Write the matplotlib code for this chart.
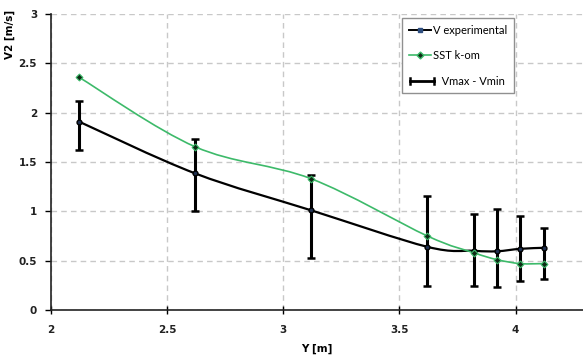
import matplotlib
matplotlib.use("Agg")
import matplotlib.pyplot as plt
from matplotlib.path import Path
from matplotlib.patches import PathPatch
from matplotlib.lines import Line2D
from matplotlib.legend_handler import HandlerBase
import numpy as np

# data
y_pos = [2.12, 2.62, 3.12, 3.62, 3.82, 3.92, 4.02, 4.12]
v_exp = [1.91, 1.385, 1.01, 0.64, 0.60, 0.595, 0.62, 0.63]
v_sst = [2.36, 1.655, 1.33, 0.75, 0.58, 0.51, 0.47, 0.47]
v_max = [2.12, 1.73, 1.37, 1.155, 0.97, 1.02, 0.955, 0.83]
v_min = [1.62, 1.00, 0.53, 0.243, 0.243, 0.233, 0.29, 0.31]

green = "#3dba6a"


def smooth_path(xs, ys):
    # excel style smoothed line: cubic bezier through the points
    pts = np.column_stack([xs, ys])
    verts = [pts[0]]
    codes = [Path.MOVETO]
    n = len(pts)
    for i in range(n - 1):
        p0 = pts[i - 1] if i > 0 else pts[i]
        p1 = pts[i]
        p2 = pts[i + 1]
        p3 = pts[i + 2] if i + 2 < n else pts[i + 1]
        c1 = p1 + (p2 - p0) / 6.0
        c2 = p2 - (p3 - p1) / 6.0
        verts += [c1, c2, p2]
        codes += [Path.CURVE4] * 3
    return Path(verts, codes)


class CapHandler(HandlerBase):
    # horizontal |---| symbol for the error bar entry
    def create_artists(self, legend, orig_handle, xd, yd, width, height, fontsize, trans):
        y = height / 2 - yd
        x0, x1 = -xd + 1, -xd + width + 2
        h = height * 0.4
        line = Line2D([x0, x1], [y, y], color="black", lw=2, transform=trans)
        cap1 = Line2D([x0, x0], [y - h, y + h], color="black", lw=1.8, transform=trans)
        cap2 = Line2D([x1, x1], [y - h, y + h], color="black", lw=1.8, transform=trans)
        return [line, cap1, cap2]


fig = plt.figure(figsize=(5.83, 3.6), dpi=100)
ax = fig.add_axes([0.0875, 0.139, 0.9125, 0.822])

err_lo = np.array(v_exp) - np.array(v_min)
err_hi = np.array(v_max) - np.array(v_exp)
ax.errorbar(y_pos, v_exp, yerr=[err_lo, err_hi], fmt="none", ecolor="black",
            elinewidth=2.2, capsize=3, capthick=1.8, zorder=3)

ax.add_patch(PathPatch(smooth_path(y_pos, v_exp), fill=False, edgecolor="black", lw=1.6, zorder=4))
ax.add_patch(PathPatch(smooth_path(y_pos, v_sst), fill=False, edgecolor=green, lw=1.2, zorder=4))
ax.plot(y_pos, v_exp, ls="none", marker="o", ms=3.5, mfc="#1f3050", mec="black", zorder=5)
ax.plot(y_pos, v_sst, ls="none", marker="D", ms=3.5, mfc="#0d2a15", mec=green, mew=0.8, zorder=5)

ax.set_xlim(2, 4.29)
ax.set_ylim(0, 3)
ax.set_xticks([2, 2.5, 3, 3.5, 4])
ax.set_xticklabels(["2", "2.5", "3", "3.5", "4"])
ax.set_yticks([0, 0.5, 1, 1.5, 2, 2.5, 3])
ax.set_yticklabels(["0", "0.5", "1", "1.5", "2", "2.5", "3"])

for s in ["top", "right"]:
    ax.spines[s].set_visible(False)
for s in ["left", "bottom"]:
    ax.spines[s].set_linewidth(1.2)
    ax.spines[s].set_color("#222222")

ax.grid(True, color="#c8c8c8", ls=(0, (4, 3)), lw=1)
ax.set_axisbelow(True)
ax.tick_params(axis="x", direction="inout", length=6, width=1, pad=8)
ax.tick_params(axis="y", direction="out", length=4, width=1, pad=6)
for lab in ax.get_xticklabels() + ax.get_yticklabels():
    lab.set_fontweight("bold")
    lab.set_fontsize(7.5)
    lab.set_color("#222222")

ax.set_xlabel("Y [m]", fontsize=7.5, fontweight="bold", labelpad=6)
ax.set_ylabel("V2 [m/s]", fontsize=7.5, fontweight="bold", labelpad=8)
ax.yaxis.set_label_coords(-0.068, 0.93)

h_exp = Line2D([], [], color="black", lw=1.4, marker="s", ms=2.5, mfc="#2f4f80", mec="#2f4f80")
h_sst = Line2D([], [], color=green, lw=1.2, marker="D", ms=3.5, mfc="#0d2a15", mec=green)
h_err = object()
leg = ax.legend([h_exp, h_sst, h_err], ["V experimental", "SST k-om", "   Vmax - Vmin"],
                handler_map={object: CapHandler()},
                loc="upper left", bbox_to_anchor=(0.66, 0.986), fancybox=False,
                edgecolor="#909090", framealpha=1, borderpad=0.6, labelspacing=1.3,
                handlelength=2.0, handletextpad=0.15, borderaxespad=0,
                prop={"family": "Lato", "size": 8})
leg.get_frame().set_linewidth(1)

fig.savefig("out.png", dpi=100)
